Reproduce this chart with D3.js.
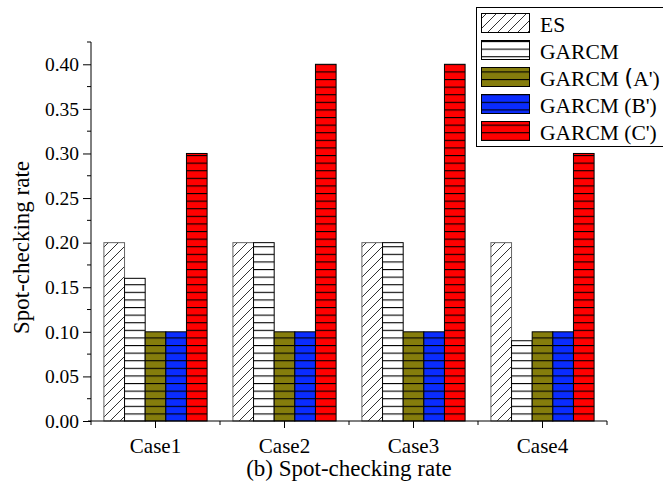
<!DOCTYPE html>
<html>
<head>
<meta charset="utf-8">
<script src="https://cdn.jsdelivr.net/npm/d3@7"></script>
<style>
  body { margin: 0; background: #fff; }
  svg { display: block; font-family: "Liberation Serif", "Times New Roman", serif; }
</style>
</head>
<body>
<svg id="chart" width="663" height="488"></svg>
<script>
const categories = ["Case1", "Case2", "Case3", "Case4"];
const seriesNames = ["ES", "GARCM", "GARCM (A')", "GARCM (B')", "GARCM (C')"];
const esValues     = [0.20, 0.20, 0.20, 0.20];
const garcmValues  = [0.16, 0.20, 0.20, 0.09];
const garcmAValues = [0.10, 0.10, 0.10, 0.10];
const garcmBValues = [0.10, 0.10, 0.10, 0.10];
const garcmCValues = [0.30, 0.40, 0.40, 0.30];
const yTickValues = [0.00, 0.05, 0.10, 0.15, 0.20, 0.25, 0.30, 0.35, 0.40];
const yLabel = "Spot-checking rate";
const chartTitle = "(b) Spot-checking rate";

const seriesValues = [esValues, garcmValues, garcmAValues, garcmBValues, garcmCValues];
const fills = ["#ffffff", "#ffffff", "#857d0c", "#0a2cff", "#ff0000"];
const patIds = ["pES", "pG", "pA", "pB", "pC"];

const svg = d3.select("#chart");
const mLeft = 91, mRight = 607, mTop = 42, mBottom = 421;

const x = d3.scaleBand().domain(categories).range([mLeft, mRight]).paddingInner(0).paddingOuter(0);
const bw = x.bandwidth();
const xs = d3.scaleBand().domain(seriesNames).range([0.1 * bw, 0.9 * bw]).padding(0);
const y = d3.scaleLinear().domain([0, 0.425]).range([mBottom, mTop]);

// patterns
const defs = svg.append("defs");
const pe = defs.append("pattern").attr("id", "pES").attr("patternUnits", "userSpaceOnUse")
  .attr("width", 10).attr("height", 10);
pe.append("rect").attr("width", 10).attr("height", 10).attr("fill", "#fff");
pe.append("path").attr("d", "M-1,1 l2,-2 M0,10 l10,-10 M9,11 l2,-2")
  .attr("stroke", "#333").attr("stroke-width", 1);
const step = 7.6;
patIds.slice(1).forEach((id, i) => {
  const p = defs.append("pattern").attr("id", id).attr("patternUnits", "userSpaceOnUse")
    .attr("width", 10).attr("height", step)
    .attr("patternTransform", `translate(0,${mBottom % step})`);
  p.append("rect").attr("width", 10).attr("height", step).attr("fill", fills[i + 1]);
  p.append("line").attr("x1", 0).attr("x2", 10).attr("y1", 0.5).attr("y2", 0.5)
    .attr("stroke", "#000").attr("stroke-width", 1.2);
});

// bars
const groups = svg.append("g").selectAll("g").data(categories).join("g")
  .attr("transform", d => `translate(${x(d)},0)`);
groups.each(function (cat, ci) {
  d3.select(this).selectAll("rect").data(seriesNames).join("rect")
    .attr("x", s => xs(s))
    .attr("width", xs.bandwidth())
    .attr("y", (s, si) => y(seriesValues[si][ci]))
    .attr("height", (s, si) => mBottom - y(seriesValues[si][ci]))
    .attr("fill", (s, si) => `url(#${patIds[si]})`)
    .attr("stroke", (s, si) => si === 0 ? "#666" : "#000")
    .attr("stroke-width", 1);
});

// y axis
const yAxis = d3.axisLeft(y).tickValues(yTickValues).tickFormat(d3.format(".2f")).tickSize(8).tickPadding(4);
const ya = svg.append("g").attr("transform", `translate(${mLeft},0)`).call(yAxis);
ya.select(".domain").attr("d", `M0,${mTop}V${mBottom}`).attr("stroke", "#000");
ya.selectAll("text").attr("font-size", 19.5).attr("font-family", "Liberation Serif").attr("fill", "#000");
const yMinor = d3.range(0.025, 0.426, 0.05);
ya.selectAll(".minor").data(yMinor).join("line").attr("class", "minor")
  .attr("x1", 0).attr("x2", -4).attr("y1", d => y(d)).attr("y2", d => y(d)).attr("stroke", "#000");

// x axis
const xAxis = d3.axisBottom(x).tickSize(7).tickPadding(10);
const xa = svg.append("g").attr("transform", `translate(0,${mBottom})`).call(xAxis);
xa.select(".domain").attr("d", `M${mLeft - 3},0H${mRight}`).attr("stroke", "#000");
xa.selectAll("text").attr("font-size", 21).attr("font-family", "Liberation Serif").attr("fill", "#000");
const bounds = categories.map(c => x(c)).concat([mRight]);
xa.selectAll(".minor").data(bounds).join("line").attr("class", "minor")
  .attr("x1", d => d).attr("x2", d => d).attr("y1", 0).attr("y2", 4).attr("stroke", "#000");

// y label
svg.append("text").attr("transform", `translate(29,${(158 + 337) / 2}) rotate(-90)`)
  .attr("text-anchor", "middle").attr("font-size", 23).text(yLabel);

// title
svg.append("text").attr("x", (mLeft + mRight) / 2).attr("y", 476)
  .attr("text-anchor", "middle").attr("font-size", 23).text(chartTitle);

// legend
const lg = svg.append("g");
lg.append("rect").attr("x", 476.5).attr("y", 7.5).attr("width", 200).attr("height", 139)
  .attr("fill", "#fff").attr("stroke", "#000");
seriesNames.forEach((s, i) => {
  const yy = 13.5 + i * 27;
  lg.append("rect").attr("x", 481.5).attr("y", yy).attr("width", 48).attr("height", 19)
    .attr("fill", `url(#${patIds[i]})`).attr("stroke", "#000");
  const t = lg.append("text").attr("x", 540).attr("y", yy + 18).attr("font-size", 21.5);
  if (i === 2) {
    t.append("tspan").text("GARCM ");
    t.append("tspan").attr("font-family", "DejaVu Sans").attr("font-size", 23).text("(");
    t.append("tspan").text("A')");
  } else {
    t.text(s);
  }
});
</script>
</body>
</html>
